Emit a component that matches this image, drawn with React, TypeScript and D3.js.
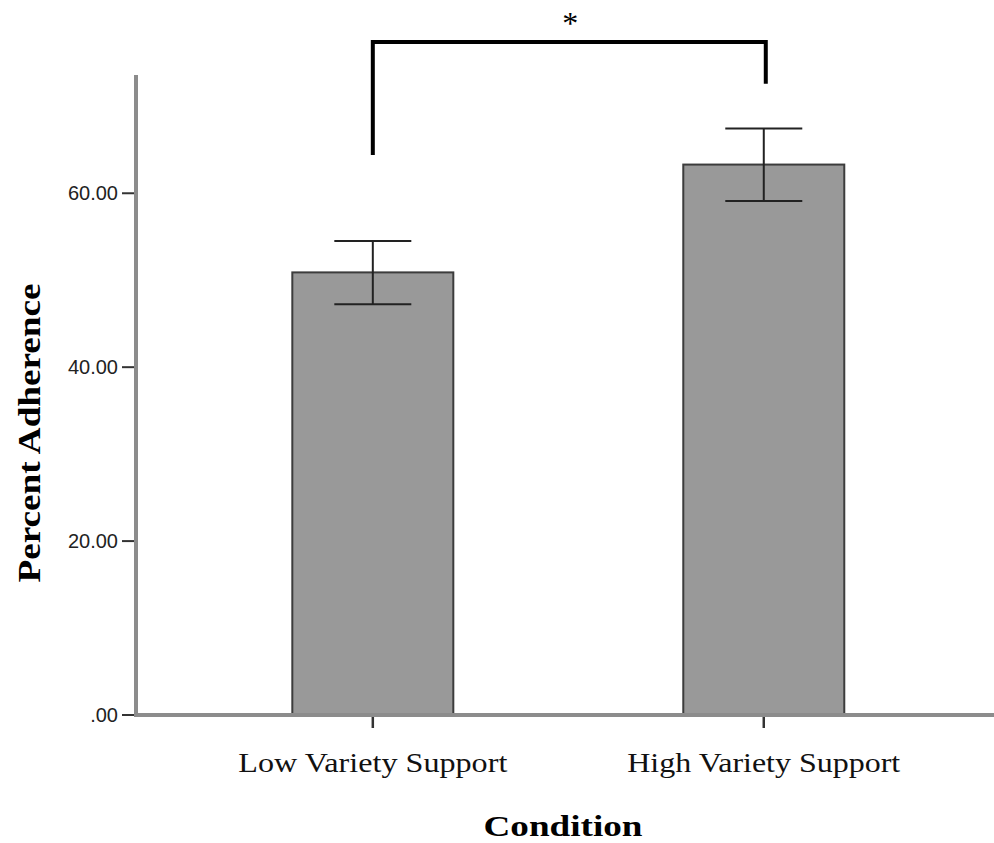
import React, { useEffect, useRef } from 'react';
import * as d3 from 'd3';

// values
const categories = ['Low Variety Support', 'High Variety Support'];
const means = [50.9, 63.3];
const upperErr = [54.5, 67.45];
const lowerErr = [47.25, 59.1];
const yTickValues = [0, 20, 40, 60];
const yMax = 73.6;
// significance bracket, in data units
const bracketTop = 77.4;
const bracketLeftEnd = 64.4;
const bracketRightEnd = 72.6;

const width = 994;
const height = 843;

export default function App() {
  const ref = useRef<SVGSVGElement>(null);

  useEffect(() => {
    const svg = d3.select(ref.current);
    svg.selectAll('*').remove();

    const left = 137, right = 994, bottom = 715, top = 75;
    const barWidth = 161, capWidth = 77;

    const x = d3.scalePoint<string>()
      .domain(categories)
      .range([left, right])
      .padding(0.596)
      .align(0.506);
    const y = d3.scaleLinear().domain([0, yMax]).range([bottom, top]);

    const fmt = (v: number) => d3.format('.2f')(v).replace(/^0\./, '.');

    const data = categories.map((c, i) => ({
      name: c, mean: means[i], hi: upperErr[i], lo: lowerErr[i]
    }));

    // bars
    svg.append('g')
      .selectAll('rect')
      .data(data)
      .join('rect')
      .attr('x', d => (x(d.name) as number) - barWidth / 2)
      .attr('width', barWidth)
      .attr('y', d => y(d.mean))
      .attr('height', d => bottom - y(d.mean))
      .attr('fill', '#999999')
      .attr('stroke', '#3c3c3c')
      .attr('stroke-width', 2);

    // error bars
    const err = svg.append('g').attr('stroke', '#222').attr('stroke-width', 2);
    data.forEach(d => {
      const cx = x(d.name) as number;
      err.append('line').attr('x1', cx).attr('x2', cx).attr('y1', y(d.hi)).attr('y2', y(d.lo));
      err.append('line').attr('x1', cx - capWidth / 2).attr('x2', cx + capWidth / 2)
        .attr('y1', y(d.hi)).attr('y2', y(d.hi));
      err.append('line').attr('x1', cx - capWidth / 2).attr('x2', cx + capWidth / 2)
        .attr('y1', y(d.lo)).attr('y2', y(d.lo));
    });

    // axes lines
    svg.append('line')
      .attr('x1', left - 1).attr('x2', left - 1)
      .attr('y1', top).attr('y2', bottom + 2)
      .attr('stroke', '#8c8c8c').attr('stroke-width', 4);
    svg.append('line')
      .attr('x1', left - 3).attr('x2', right)
      .attr('y1', bottom).attr('y2', bottom)
      .attr('stroke', '#8c8c8c').attr('stroke-width', 4);

    // y ticks
    const yt = svg.append('g');
    yt.selectAll('line')
      .data(yTickValues)
      .join('line')
      .attr('x1', 122).attr('x2', left - 3)
      .attr('y1', d => y(d)).attr('y2', d => y(d))
      .attr('stroke', '#333').attr('stroke-width', 2);
    yt.selectAll('text')
      .data(yTickValues)
      .join('text')
      .attr('x', 118)
      .attr('y', d => y(d))
      .attr('dy', '0.36em')
      .attr('text-anchor', 'end')
      .attr('font-family', 'Liberation Sans, Arial, sans-serif')
      .attr('font-size', 20)
      .attr('fill', '#222')
      .text(d => fmt(d));

    // x ticks and labels
    const xt = svg.append('g');
    xt.selectAll('line')
      .data(categories)
      .join('line')
      .attr('x1', d => x(d) as number).attr('x2', d => x(d) as number)
      .attr('y1', bottom + 2).attr('y2', bottom + 13)
      .attr('stroke', '#333').attr('stroke-width', 2.5);
    const labelLengths = [269, 273];
    xt.selectAll('text')
      .data(categories)
      .join('text')
      .attr('x', d => x(d) as number)
      .attr('y', 772)
      .attr('text-anchor', 'middle')
      .attr('font-family', 'Liberation Serif, Times New Roman, serif')
      .attr('font-size', 27)
      .attr('fill', '#111')
      .attr('textLength', (d, i) => labelLengths[i])
      .attr('lengthAdjust', 'spacingAndGlyphs')
      .text(d => d);

    // axis titles
    svg.append('text')
      .attr('x', 563)
      .attr('y', 836)
      .attr('text-anchor', 'middle')
      .attr('font-family', 'Liberation Serif, Times New Roman, serif')
      .attr('font-weight', 'bold')
      .attr('font-size', 30)
      .attr('textLength', 159)
      .attr('lengthAdjust', 'spacingAndGlyphs')
      .text('Condition');

    svg.append('text')
      .attr('transform', 'translate(40,433) rotate(-90)')
      .attr('text-anchor', 'middle')
      .attr('font-family', 'Liberation Serif, Times New Roman, serif')
      .attr('font-weight', 'bold')
      .attr('font-size', 32)
      .attr('textLength', 299)
      .attr('lengthAdjust', 'spacingAndGlyphs')
      .text('Percent Adherence');

    // significance bracket
    const x0 = x(categories[0]) as number;
    const x1 = (x(categories[1]) as number) + 2;
    const path = d3.path();
    path.moveTo(x0, y(bracketLeftEnd));
    path.lineTo(x0, y(bracketTop));
    path.lineTo(x1, y(bracketTop));
    path.lineTo(x1, y(bracketRightEnd));
    svg.append('path')
      .attr('d', path.toString())
      .attr('fill', 'none')
      .attr('stroke', '#000')
      .attr('stroke-width', 4);
    svg.append('text')
      .attr('x', (x0 + x1) / 2 + 1)
      .attr('y', 34)
      .attr('text-anchor', 'middle')
      .attr('font-family', 'Liberation Serif, Times New Roman, serif')
      .attr('font-size', 32)
      .text('*');
  }, []);

  return (
    <div style={{ position: 'absolute', left: 0, top: 0 }}>
      <svg ref={ref} width={width} height={height} style={{ display: 'block', background: '#fff' }} />
    </div>
  );
}
